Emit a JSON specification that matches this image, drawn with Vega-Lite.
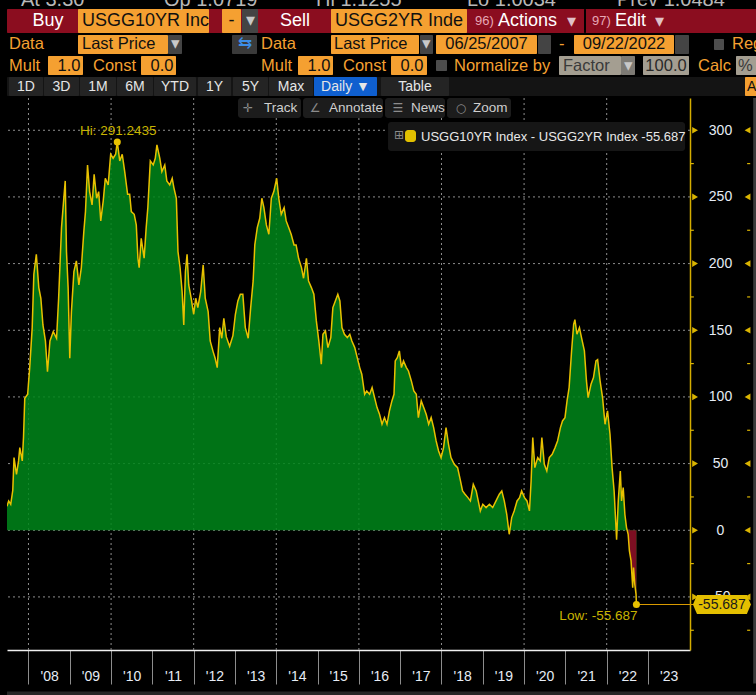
{
  "$schema": "https://vega.github.io/schema/vega-lite/v6.json",
  "description": "Bloomberg-style chart of the US 10Y minus 2Y Treasury yield spread (bp), Jun 2007 - Sep 2022",
  "background": "#000000",
  "padding": {"left": 6, "top": 0, "right": 0, "bottom": 0},
  "spacing": 0,
  "config": {
    "view": {"stroke": null},
    "concat": {"spacing": 0},
    "text": {"font": "Liberation Sans"}
  },
  "resolve": {"scale": {"color": "independent", "size": "independent"}},
  "datasets": {
    "spread": [
      {"year": 2007.48, "spread": 18}, {"year": 2007.52, "spread": 22}, {"year": 2007.57, "spread": 19.5},
      {"year": 2007.62, "spread": 30}, {"year": 2007.65, "spread": 54.5}, {"year": 2007.71, "spread": 42},
      {"year": 2007.76, "spread": 52}, {"year": 2007.79, "spread": 62}, {"year": 2007.85, "spread": 52},
      {"year": 2007.88, "spread": 70}, {"year": 2007.91, "spread": 99}, {"year": 2007.98, "spread": 102},
      {"year": 2008.03, "spread": 122}, {"year": 2008.09, "spread": 152}, {"year": 2008.13, "spread": 192},
      {"year": 2008.19, "spread": 207}, {"year": 2008.25, "spread": 182}, {"year": 2008.30, "spread": 174},
      {"year": 2008.35, "spread": 154}, {"year": 2008.41, "spread": 142}, {"year": 2008.46, "spread": 119},
      {"year": 2008.52, "spread": 142}, {"year": 2008.60, "spread": 149}, {"year": 2008.68, "spread": 144},
      {"year": 2008.73, "spread": 174}, {"year": 2008.80, "spread": 227}, {"year": 2008.85, "spread": 247},
      {"year": 2008.89, "spread": 262}, {"year": 2008.92, "spread": 209}, {"year": 2008.96, "spread": 182},
      {"year": 2009.00, "spread": 129}, {"year": 2009.04, "spread": 164}, {"year": 2009.10, "spread": 194},
      {"year": 2009.16, "spread": 202}, {"year": 2009.22, "spread": 184}, {"year": 2009.28, "spread": 197},
      {"year": 2009.34, "spread": 224}, {"year": 2009.38, "spread": 239}, {"year": 2009.43, "spread": 274},
      {"year": 2009.48, "spread": 254}, {"year": 2009.54, "spread": 244}, {"year": 2009.59, "spread": 267},
      {"year": 2009.65, "spread": 249}, {"year": 2009.70, "spread": 254}, {"year": 2009.75, "spread": 232},
      {"year": 2009.81, "spread": 247}, {"year": 2009.86, "spread": 264}, {"year": 2009.93, "spread": 259},
      {"year": 2009.99, "spread": 282}, {"year": 2010.05, "spread": 279}, {"year": 2010.11, "spread": 282},
      {"year": 2010.15, "spread": 291.2435}, {"year": 2010.21, "spread": 277}, {"year": 2010.27, "spread": 282},
      {"year": 2010.33, "spread": 269}, {"year": 2010.40, "spread": 252}, {"year": 2010.45, "spread": 252},
      {"year": 2010.49, "spread": 239}, {"year": 2010.56, "spread": 237}, {"year": 2010.61, "spread": 229},
      {"year": 2010.65, "spread": 204}, {"year": 2010.68, "spread": 197}, {"year": 2010.73, "spread": 219},
      {"year": 2010.80, "spread": 204}, {"year": 2010.85, "spread": 227}, {"year": 2010.89, "spread": 242},
      {"year": 2010.95, "spread": 277}, {"year": 2011.02, "spread": 274}, {"year": 2011.07, "spread": 279},
      {"year": 2011.11, "spread": 289}, {"year": 2011.18, "spread": 279}, {"year": 2011.23, "spread": 269},
      {"year": 2011.30, "spread": 274}, {"year": 2011.35, "spread": 262}, {"year": 2011.42, "spread": 259},
      {"year": 2011.48, "spread": 264}, {"year": 2011.52, "spread": 257}, {"year": 2011.58, "spread": 249},
      {"year": 2011.62, "spread": 209}, {"year": 2011.67, "spread": 197}, {"year": 2011.72, "spread": 179},
      {"year": 2011.76, "spread": 154}, {"year": 2011.80, "spread": 194}, {"year": 2011.84, "spread": 207},
      {"year": 2011.88, "spread": 184}, {"year": 2011.94, "spread": 174}, {"year": 2012.00, "spread": 162},
      {"year": 2012.05, "spread": 174}, {"year": 2012.10, "spread": 167}, {"year": 2012.17, "spread": 179},
      {"year": 2012.23, "spread": 199}, {"year": 2012.28, "spread": 174}, {"year": 2012.35, "spread": 164},
      {"year": 2012.40, "spread": 142}, {"year": 2012.47, "spread": 134}, {"year": 2012.52, "spread": 129},
      {"year": 2012.57, "spread": 122}, {"year": 2012.63, "spread": 152}, {"year": 2012.68, "spread": 144},
      {"year": 2012.73, "spread": 159}, {"year": 2012.79, "spread": 145}, {"year": 2012.87, "spread": 138},
      {"year": 2012.95, "spread": 146}, {"year": 2013.01, "spread": 162}, {"year": 2013.07, "spread": 172},
      {"year": 2013.13, "spread": 177}, {"year": 2013.19, "spread": 177}, {"year": 2013.25, "spread": 152},
      {"year": 2013.32, "spread": 144}, {"year": 2013.38, "spread": 167}, {"year": 2013.44, "spread": 187},
      {"year": 2013.48, "spread": 214}, {"year": 2013.54, "spread": 227}, {"year": 2013.60, "spread": 234},
      {"year": 2013.65, "spread": 249}, {"year": 2013.70, "spread": 242}, {"year": 2013.76, "spread": 229},
      {"year": 2013.82, "spread": 222}, {"year": 2013.88, "spread": 249}, {"year": 2013.94, "spread": 254},
      {"year": 2014.01, "spread": 264}, {"year": 2014.06, "spread": 249}, {"year": 2014.12, "spread": 237},
      {"year": 2014.19, "spread": 242}, {"year": 2014.24, "spread": 232}, {"year": 2014.30, "spread": 227},
      {"year": 2014.36, "spread": 222}, {"year": 2014.43, "spread": 214}, {"year": 2014.48, "spread": 214},
      {"year": 2014.54, "spread": 204}, {"year": 2014.61, "spread": 197}, {"year": 2014.66, "spread": 189},
      {"year": 2014.73, "spread": 204}, {"year": 2014.78, "spread": 187}, {"year": 2014.85, "spread": 182},
      {"year": 2014.91, "spread": 177}, {"year": 2014.97, "spread": 157}, {"year": 2015.03, "spread": 142},
      {"year": 2015.09, "spread": 124.5}, {"year": 2015.13, "spread": 147}, {"year": 2015.19, "spread": 149.5},
      {"year": 2015.25, "spread": 137}, {"year": 2015.32, "spread": 144.5}, {"year": 2015.37, "spread": 167},
      {"year": 2015.43, "spread": 172}, {"year": 2015.49, "spread": 177}, {"year": 2015.54, "spread": 172},
      {"year": 2015.59, "spread": 152}, {"year": 2015.65, "spread": 147}, {"year": 2015.72, "spread": 144.5},
      {"year": 2015.78, "spread": 147}, {"year": 2015.83, "spread": 142}, {"year": 2015.90, "spread": 137},
      {"year": 2015.96, "spread": 129.5}, {"year": 2016.02, "spread": 122}, {"year": 2016.07, "spread": 117},
      {"year": 2016.14, "spread": 102}, {"year": 2016.19, "spread": 104.5}, {"year": 2016.26, "spread": 102},
      {"year": 2016.32, "spread": 107}, {"year": 2016.38, "spread": 99.5}, {"year": 2016.44, "spread": 92},
      {"year": 2016.50, "spread": 87}, {"year": 2016.56, "spread": 79.5}, {"year": 2016.62, "spread": 84.5},
      {"year": 2016.68, "spread": 79.5}, {"year": 2016.74, "spread": 89.5}, {"year": 2016.80, "spread": 97},
      {"year": 2016.85, "spread": 102}, {"year": 2016.88, "spread": 127}, {"year": 2016.93, "spread": 129.5},
      {"year": 2016.98, "spread": 134.5}, {"year": 2017.03, "spread": 122}, {"year": 2017.08, "spread": 127},
      {"year": 2017.15, "spread": 122}, {"year": 2017.20, "spread": 119.5}, {"year": 2017.27, "spread": 112},
      {"year": 2017.33, "spread": 104.5}, {"year": 2017.39, "spread": 102}, {"year": 2017.44, "spread": 84.5},
      {"year": 2017.51, "spread": 97}, {"year": 2017.57, "spread": 92}, {"year": 2017.63, "spread": 87},
      {"year": 2017.69, "spread": 79.5}, {"year": 2017.75, "spread": 84.5}, {"year": 2017.81, "spread": 77},
      {"year": 2017.87, "spread": 67}, {"year": 2017.93, "spread": 59.5}, {"year": 2017.99, "spread": 54.5},
      {"year": 2018.05, "spread": 62}, {"year": 2018.11, "spread": 77}, {"year": 2018.17, "spread": 64.5},
      {"year": 2018.23, "spread": 54.5}, {"year": 2018.31, "spread": 49.5}, {"year": 2018.39, "spread": 47},
      {"year": 2018.46, "spread": 37}, {"year": 2018.51, "spread": 29.5}, {"year": 2018.57, "spread": 27},
      {"year": 2018.64, "spread": 24.5}, {"year": 2018.70, "spread": 22}, {"year": 2018.77, "spread": 34.5},
      {"year": 2018.84, "spread": 29.5}, {"year": 2018.89, "spread": 22}, {"year": 2018.94, "spread": 14.5},
      {"year": 2019.00, "spread": 19.5}, {"year": 2019.08, "spread": 17}, {"year": 2019.16, "spread": 19.5},
      {"year": 2019.24, "spread": 17}, {"year": 2019.32, "spread": 22}, {"year": 2019.40, "spread": 27},
      {"year": 2019.46, "spread": 29.5}, {"year": 2019.52, "spread": 22}, {"year": 2019.58, "spread": 12},
      {"year": 2019.64, "spread": -3}, {"year": 2019.70, "spread": 9.5}, {"year": 2019.76, "spread": 14.5},
      {"year": 2019.83, "spread": 22}, {"year": 2019.89, "spread": 24.5}, {"year": 2019.94, "spread": 29.5},
      {"year": 2020.01, "spread": 24.5}, {"year": 2020.07, "spread": 22}, {"year": 2020.13, "spread": 14.5},
      {"year": 2020.17, "spread": 37}, {"year": 2020.21, "spread": 69.5}, {"year": 2020.26, "spread": 47},
      {"year": 2020.33, "spread": 54.5}, {"year": 2020.39, "spread": 52}, {"year": 2020.43, "spread": 69.5},
      {"year": 2020.49, "spread": 49.5}, {"year": 2020.55, "spread": 44.5}, {"year": 2020.61, "spread": 54.5},
      {"year": 2020.68, "spread": 57}, {"year": 2020.75, "spread": 62}, {"year": 2020.81, "spread": 67},
      {"year": 2020.88, "spread": 77}, {"year": 2020.93, "spread": 82}, {"year": 2020.99, "spread": 84.5},
      {"year": 2021.04, "spread": 97}, {"year": 2021.09, "spread": 107}, {"year": 2021.15, "spread": 134.5},
      {"year": 2021.20, "spread": 154.5}, {"year": 2021.23, "spread": 158}, {"year": 2021.28, "spread": 147},
      {"year": 2021.34, "spread": 152}, {"year": 2021.39, "spread": 144.5}, {"year": 2021.46, "spread": 134.5},
      {"year": 2021.51, "spread": 112}, {"year": 2021.55, "spread": 99.5}, {"year": 2021.62, "spread": 109.5},
      {"year": 2021.68, "spread": 114.5}, {"year": 2021.74, "spread": 127}, {"year": 2021.78, "spread": 128},
      {"year": 2021.84, "spread": 112}, {"year": 2021.90, "spread": 99.5}, {"year": 2021.96, "spread": 79.5},
      {"year": 2022.02, "spread": 89.5}, {"year": 2022.08, "spread": 72}, {"year": 2022.13, "spread": 47},
      {"year": 2022.18, "spread": 29.5}, {"year": 2022.24, "spread": -7}, {"year": 2022.28, "spread": 22},
      {"year": 2022.33, "spread": 44.5}, {"year": 2022.36, "spread": 22}, {"year": 2022.40, "spread": 32},
      {"year": 2022.44, "spread": 12}, {"year": 2022.48, "spread": 2}, {"year": 2022.52, "spread": -3},
      {"year": 2022.55, "spread": -15.5}, {"year": 2022.59, "spread": -23}, {"year": 2022.61, "spread": -33},
      {"year": 2022.63, "spread": -43}, {"year": 2022.65, "spread": -28}, {"year": 2022.68, "spread": -40.5},
      {"year": 2022.71, "spread": -48}, {"year": 2022.72, "spread": -55.687}
    ],
    "evenYears": [
      {"year": 2008}, {"year": 2010}, {"year": 2012}, {"year": 2014},
      {"year": 2016}, {"year": 2018}, {"year": 2020}, {"year": 2022}
    ],
    "majors": [
      {"level": -50}, {"level": 0}, {"level": 50}, {"level": 100},
      {"level": 150}, {"level": 200}, {"level": 250}, {"level": 300}
    ],
    "minors": [
      {"level": -75}, {"level": -25}, {"level": 25}, {"level": 75},
      {"level": 125}, {"level": 175}, {"level": 225}, {"level": 275}
    ],
    "extremes": [
      {"year": 2010.15, "spread": 291.2435, "tag": "Hi", "label": "Hi: 291.2435", "value": "291.2435"},
      {"year": 2022.72, "spread": -55.687, "tag": "Low", "label": "Low: -55.687", "value": "-55.687"}
    ],
    "hdrBoxes": [
      {"x0": 6, "x1": 756, "y0": 9, "y1": 33, "kind": "red"},
      {"x0": 77, "x1": 208, "y0": 9, "y1": 33, "kind": "orange"},
      {"x0": 221, "x1": 240, "y0": 9, "y1": 33, "kind": "orange"},
      {"x0": 241, "x1": 257, "y0": 9, "y1": 33, "kind": "drop"},
      {"x0": 330, "x1": 466, "y0": 9, "y1": 33, "kind": "orange"},
      {"x0": 583, "x1": 585, "y0": 9, "y1": 33, "kind": "sep"},
      {"x0": 77, "x1": 167, "y0": 35, "y1": 54, "kind": "orange"},
      {"x0": 167, "x1": 181, "y0": 35, "y1": 54, "kind": "drop"},
      {"x0": 231, "x1": 256, "y0": 35, "y1": 54, "kind": "icon"},
      {"x0": 330, "x1": 418, "y0": 35, "y1": 54, "kind": "orange"},
      {"x0": 419, "x1": 432, "y0": 35, "y1": 54, "kind": "drop"},
      {"x0": 435, "x1": 536, "y0": 35, "y1": 54, "kind": "orange"},
      {"x0": 537, "x1": 550, "y0": 35, "y1": 54, "kind": "drop"},
      {"x0": 573, "x1": 673, "y0": 35, "y1": 54, "kind": "orange"},
      {"x0": 674, "x1": 688, "y0": 35, "y1": 54, "kind": "drop"},
      {"x0": 713, "x1": 723, "y0": 39, "y1": 50, "kind": "check"},
      {"x0": 47, "x1": 82, "y0": 56, "y1": 75, "kind": "orange"},
      {"x0": 140, "x1": 175, "y0": 56, "y1": 75, "kind": "orange"},
      {"x0": 297, "x1": 332, "y0": 56, "y1": 75, "kind": "orange"},
      {"x0": 390, "x1": 426, "y0": 56, "y1": 75, "kind": "orange"},
      {"x0": 435, "x1": 446, "y0": 60, "y1": 71, "kind": "check"},
      {"x0": 558, "x1": 620, "y0": 56, "y1": 75, "kind": "tan"},
      {"x0": 620, "x1": 634, "y0": 56, "y1": 75, "kind": "tandrop"},
      {"x0": 642, "x1": 688, "y0": 56, "y1": 75, "kind": "tan"},
      {"x0": 735, "x1": 756, "y0": 56, "y1": 75, "kind": "tan"},
      {"x0": 6, "x1": 756, "y0": 77, "y1": 96, "kind": "dark"},
      {"x0": 8, "x1": 42, "y0": 77, "y1": 96, "kind": "btn"},
      {"x0": 43, "x1": 78, "y0": 77, "y1": 96, "kind": "btn"},
      {"x0": 79, "x1": 115, "y0": 77, "y1": 96, "kind": "btn"},
      {"x0": 116, "x1": 152, "y0": 77, "y1": 96, "kind": "btn"},
      {"x0": 153, "x1": 195, "y0": 77, "y1": 96, "kind": "btn"},
      {"x0": 197, "x1": 230, "y0": 77, "y1": 96, "kind": "btn"},
      {"x0": 232, "x1": 267, "y0": 77, "y1": 96, "kind": "btn"},
      {"x0": 268, "x1": 312, "y0": 77, "y1": 96, "kind": "btn"},
      {"x0": 313, "x1": 376, "y0": 77, "y1": 96, "kind": "blue"},
      {"x0": 380, "x1": 448, "y0": 77, "y1": 96, "kind": "btn"},
      {"x0": 744, "x1": 756, "y0": 77, "y1": 96, "kind": "orange"}
    ],
    "hdrText": [
      {"x": 20, "y": 0, "label": "At 3.30", "kind": "top", "row": 0},
      {"x": 163, "y": 0, "label": "Op 1.0719", "kind": "top", "row": 0},
      {"x": 315, "y": 0, "label": "Hi 1.1255", "kind": "top", "row": 0},
      {"x": 466, "y": 0, "label": "Lo 1.0034", "kind": "top", "row": 0},
      {"x": 616, "y": 0, "label": "Prev 1.0484", "kind": "top", "row": 0},
      {"x": 47, "y": 21, "label": "Buy", "kind": "white", "row": 1},
      {"x": 81, "y": 21, "label": "USGG10YR Inc", "kind": "boxtext", "row": 1},
      {"x": 230.5, "y": 21, "label": "-", "kind": "boxnum", "row": 1},
      {"x": 249, "y": 21, "label": "▾", "kind": "dropg", "row": 1},
      {"x": 294, "y": 21, "label": "Sell", "kind": "white", "row": 1},
      {"x": 334, "y": 21, "label": "USGG2YR Inde", "kind": "boxtext", "row": 1},
      {"x": 474, "y": 21, "label": "96)", "kind": "num", "row": 1},
      {"x": 497, "y": 21, "label": "Actions", "kind": "whiteL", "row": 1},
      {"x": 570, "y": 22, "label": "▾", "kind": "dropw", "row": 1},
      {"x": 591, "y": 21, "label": "97)", "kind": "num", "row": 1},
      {"x": 614, "y": 21, "label": "Edit", "kind": "whiteL", "row": 1},
      {"x": 658, "y": 22, "label": "▾", "kind": "dropw", "row": 1},
      {"x": 8, "y": 44, "label": "Data", "kind": "label", "row": 2},
      {"x": 81, "y": 44, "label": "Last Price", "kind": "boxtext", "row": 2},
      {"x": 174, "y": 44, "label": "▾", "kind": "dropg", "row": 2},
      {"x": 243.5, "y": 44, "label": "⇆", "kind": "swap", "row": 2},
      {"x": 260, "y": 44, "label": "Data", "kind": "label", "row": 2},
      {"x": 333, "y": 44, "label": "Last Price", "kind": "boxtext", "row": 2},
      {"x": 425.5, "y": 44, "label": "▾", "kind": "dropg", "row": 2},
      {"x": 485.5, "y": 44, "label": "06/25/2007", "kind": "boxnum", "row": 2},
      {"x": 558, "y": 44, "label": "-", "kind": "label", "row": 2},
      {"x": 623, "y": 44, "label": "09/22/2022", "kind": "boxnum", "row": 2},
      {"x": 731, "y": 44, "label": "Reg", "kind": "label", "row": 2},
      {"x": 8, "y": 66, "label": "Mult", "kind": "label", "row": 3},
      {"x": 68, "y": 66, "label": "1.0", "kind": "boxnum", "row": 3},
      {"x": 92, "y": 66, "label": "Const", "kind": "label", "row": 3},
      {"x": 161, "y": 66, "label": "0.0", "kind": "boxnum", "row": 3},
      {"x": 260, "y": 66, "label": "Mult", "kind": "label", "row": 3},
      {"x": 318, "y": 66, "label": "1.0", "kind": "boxnum", "row": 3},
      {"x": 342, "y": 66, "label": "Const", "kind": "label", "row": 3},
      {"x": 411, "y": 66, "label": "0.0", "kind": "boxnum", "row": 3},
      {"x": 453, "y": 66, "label": "Normalize by", "kind": "label", "row": 3},
      {"x": 562, "y": 66, "label": "Factor", "kind": "tantext", "row": 3},
      {"x": 627, "y": 66, "label": "▾", "kind": "dropg", "row": 3},
      {"x": 665, "y": 66, "label": "100.0", "kind": "tannum", "row": 3},
      {"x": 697, "y": 66, "label": "Calc", "kind": "label", "row": 3},
      {"x": 737, "y": 66, "label": "%", "kind": "tantext", "row": 3},
      {"x": 25, "y": 86.5, "label": "1D", "kind": "btntext", "row": 4},
      {"x": 60.5, "y": 86.5, "label": "3D", "kind": "btntext", "row": 4},
      {"x": 97, "y": 86.5, "label": "1M", "kind": "btntext", "row": 4},
      {"x": 134, "y": 86.5, "label": "6M", "kind": "btntext", "row": 4},
      {"x": 174, "y": 86.5, "label": "YTD", "kind": "btntext", "row": 4},
      {"x": 213.5, "y": 86.5, "label": "1Y", "kind": "btntext", "row": 4},
      {"x": 249.5, "y": 86.5, "label": "5Y", "kind": "btntext", "row": 4},
      {"x": 290, "y": 86.5, "label": "Max", "kind": "btntext", "row": 4},
      {"x": 344.5, "y": 86.5, "label": "Daily ▼", "kind": "btntext", "row": 4},
      {"x": 414, "y": 86.5, "label": "Table", "kind": "btntext", "row": 4},
      {"x": 746, "y": 86.5, "label": "A", "kind": "boxtext", "row": 4}
    ],
    "uiBoxes": [
      {"x0": 2013.073, "x1": 2014.599, "y0": 324.2, "y1": 309.2, "part": "btn"},
      {"x0": 2014.647, "x1": 2016.584, "y0": 324.2, "y1": 309.2, "part": "btn"},
      {"x0": 2016.633, "x1": 2018.085, "y0": 324.2, "y1": 309.2, "part": "btn"},
      {"x0": 2018.134, "x1": 2019.683, "y0": 324.2, "y1": 309.2, "part": "btn"},
      {"x0": 2016.705, "x1": 2023.897, "y0": 306.2, "y1": 284.5, "part": "legend"},
      {"x0": 2017.117, "x1": 2017.383, "y0": 300.2, "y1": 291.2, "part": "swatch"}
    ],
    "uiText": [
      {"x": 2013.315, "y": 316.7, "label": "✛", "part": "icon"},
      {"x": 2014.938, "y": 316.7, "label": "∠", "part": "icon"},
      {"x": 2016.947, "y": 316.7, "label": "☰", "part": "icon"},
      {"x": 2018.473, "y": 316.7, "label": "○", "part": "icon"},
      {"x": 2016.971, "y": 296.5, "label": "⊞", "part": "icon"},
      {"x": 2013.703, "y": 316.7, "label": "Track", "part": "uil"},
      {"x": 2015.277, "y": 316.7, "label": "Annotate", "part": "uil"},
      {"x": 2017.262, "y": 316.7, "label": "News", "part": "uil"},
      {"x": 2018.763, "y": 316.7, "label": "Zoom", "part": "uil"},
      {"x": 2017.504, "y": 295.0, "label": "USGG10YR Index - USGG2YR Index -55.687", "part": "leg"}
    ]
  },
  "vconcat": [
    {
      "width": 750,
      "height": 97,
      "layer": [
        {
          "data": {"name": "hdrBoxes"},
          "mark": {"type": "rect", "clip": true, "cornerRadius": 1},
          "encoding": {
            "x": {"field": "x0", "type": "quantitative", "scale": {"domain": [6, 756], "nice": false, "zero": false}, "axis": null},
            "x2": {"field": "x1"},
            "y": {"field": "y0", "type": "quantitative", "scale": {"domain": [97, 0], "nice": false, "zero": false}, "axis": null},
            "y2": {"field": "y1"},
            "color": {
              "field": "kind", "type": "nominal", "legend": null,
              "scale": {
                "domain": ["red", "orange", "drop", "dark", "btn", "blue", "tan", "tandrop", "check", "icon", "sep", "top", "white", "whiteL", "boxtext", "boxnum", "dropg", "dropw", "num", "swap", "label", "tantext", "tannum", "btntext"],
                "range": ["#8b0d1f", "#f5a031", "#444444", "#141414", "#242424", "#0f5fcf", "#a49e91", "#7d7a74", "#4d4d4d", "#3a3a3a", "#000000", "#b8b8b8", "#ffffff", "#ffffff", "#101010", "#101010", "#c8c8c8", "#e0c0c8", "#e7a8b6", "#3c8ee8", "#f5a031", "#3a3a3a", "#2a2a2a", "#e6e6e6"]
              }
            }
          }
        },
        {
          "data": {"name": "hdrText"},
          "transform": [{"filter": "indexof(['top', 'whiteL', 'boxtext', 'label', 'tantext'], datum.kind) >= 0"}],
          "mark": {"type": "text", "align": "left", "baseline": "middle", "clip": true, "font": "Liberation Sans"},
          "encoding": {
            "x": {"field": "x", "type": "quantitative", "scale": {"domain": [6, 756], "nice": false, "zero": false}, "axis": null},
            "y": {"field": "y", "type": "quantitative", "scale": {"domain": [97, 0], "nice": false, "zero": false}, "axis": null},
            "text": {"field": "label"},
            "size": {"field": "row", "type": "quantitative", "legend": null, "scale": {"type": "threshold", "domain": [0.5, 1.5, 3.5], "range": [20, 18, 16.5, 14]}},
            "color": {
              "field": "kind", "type": "nominal", "legend": null,
              "scale": {
                "domain": ["red", "orange", "drop", "dark", "btn", "blue", "tan", "tandrop", "check", "icon", "sep", "top", "white", "whiteL", "boxtext", "boxnum", "dropg", "dropw", "num", "swap", "label", "tantext", "tannum", "btntext"],
                "range": ["#8b0d1f", "#f5a031", "#444444", "#141414", "#242424", "#0f5fcf", "#a49e91", "#7d7a74", "#4d4d4d", "#3a3a3a", "#000000", "#b8b8b8", "#ffffff", "#ffffff", "#101010", "#101010", "#c8c8c8", "#e0c0c8", "#e7a8b6", "#3c8ee8", "#f5a031", "#3a3a3a", "#2a2a2a", "#e6e6e6"]
              }
            }
          }
        },
        {
          "data": {"name": "hdrText"},
          "transform": [{"filter": "datum.kind == 'num'"}],
          "mark": {"type": "text", "align": "left", "baseline": "middle", "clip": true, "font": "Liberation Sans", "fontSize": 13, "color": "#e7a8b6"},
          "encoding": {
            "x": {"field": "x", "type": "quantitative", "scale": {"domain": [6, 756], "nice": false, "zero": false}, "axis": null},
            "y": {"field": "y", "type": "quantitative", "scale": {"domain": [97, 0], "nice": false, "zero": false}, "axis": null},
            "text": {"field": "label"}
          }
        },
        {
          "data": {"name": "hdrText"},
          "transform": [{"filter": "indexof(['top', 'whiteL', 'boxtext', 'num', 'label', 'tantext'], datum.kind) < 0"}],
          "mark": {"type": "text", "align": "center", "baseline": "middle", "clip": true, "font": "Liberation Sans"},
          "encoding": {
            "x": {"field": "x", "type": "quantitative", "scale": {"domain": [6, 756], "nice": false, "zero": false}, "axis": null},
            "y": {"field": "y", "type": "quantitative", "scale": {"domain": [97, 0], "nice": false, "zero": false}, "axis": null},
            "text": {"field": "label"},
            "size": {"field": "row", "type": "quantitative", "legend": null, "scale": {"type": "threshold", "domain": [0.5, 1.5, 3.5], "range": [20, 18, 16.5, 14]}},
            "color": {
              "field": "kind", "type": "nominal", "legend": null,
              "scale": {
                "domain": ["red", "orange", "drop", "dark", "btn", "blue", "tan", "tandrop", "check", "icon", "sep", "top", "white", "whiteL", "boxtext", "boxnum", "dropg", "dropw", "num", "swap", "label", "tantext", "tannum", "btntext"],
                "range": ["#8b0d1f", "#f5a031", "#444444", "#141414", "#242424", "#0f5fcf", "#a49e91", "#7d7a74", "#4d4d4d", "#3a3a3a", "#000000", "#b8b8b8", "#ffffff", "#ffffff", "#101010", "#101010", "#c8c8c8", "#e0c0c8", "#e7a8b6", "#3c8ee8", "#f5a031", "#3a3a3a", "#2a2a2a", "#e6e6e6"]
              }
            }
          }
        }
      ]
    },
    {
      "width": 683,
      "height": 552,
      "layer": [
        {
          "data": {"name": "evenYears"},
          "mark": {"type": "rule", "color": "#8e8e8e", "strokeDash": [2, 3], "strokeWidth": 1},
          "encoding": {
            "x": {"field": "year", "type": "quantitative", "scale": {"domain": [2007.48, 2024.017], "nice": false, "zero": false}}
          }
        },
        {
          "data": {"name": "majors"},
          "mark": {"type": "rule", "color": "#8e8e8e", "strokeDash": [2, 3], "strokeWidth": 1},
          "encoding": {
            "y": {"field": "level", "type": "quantitative", "scale": {"domain": [-89.8, 324.2], "nice": false, "zero": false}}
          }
        },
        {
          "data": {"name": "spread"},
          "mark": {"type": "area", "color": "#00861a", "opacity": 0.86, "clip": true},
          "encoding": {
            "x": {"field": "year", "type": "quantitative", "scale": {"domain": [2007.48, 2024.017], "nice": false, "zero": false}},
            "y": {"field": "spread", "type": "quantitative", "scale": {"domain": [-89.8, 324.2], "nice": false, "zero": false}},
            "y2": {"datum": 0}
          }
        },
        {
          "data": {"name": "spread"},
          "transform": [{"filter": "datum.spread < 0 && datum.year > 2022.5"}],
          "mark": {"type": "area", "color": "#7d0f22", "clip": true},
          "encoding": {
            "x": {"field": "year", "type": "quantitative", "scale": {"domain": [2007.48, 2024.017], "nice": false, "zero": false}},
            "y": {"field": "spread", "type": "quantitative", "scale": {"domain": [-89.8, 324.2], "nice": false, "zero": false}},
            "y2": {"datum": 0}
          }
        },
        {
          "data": {"name": "spread"},
          "mark": {"type": "line", "color": "#e8c100", "strokeWidth": 1.5, "clip": true},
          "encoding": {
            "x": {
              "field": "year", "type": "quantitative",
              "scale": {"domain": [2007.48, 2024.017], "nice": false, "zero": false},
              "axis": {
                "values": [2008, 2009, 2010, 2011, 2012, 2013, 2014, 2015, 2016, 2017, 2018, 2019, 2020, 2021, 2022, 2023],
                "labelExpr": "\"'\" + substring(toString(datum.value), 2, 4)",
                "labelOffset": 20.65,
                "tickSize": 34,
                "tickColor": "#8c8c8c",
                "tickWidth": 1,
                "domainColor": "#f0f0f0",
                "domainWidth": 1.5,
                "grid": false,
                "labelColor": "#e6ecf5",
                "labelFont": "Liberation Sans",
                "labelFontSize": 14,
                "labelPadding": -8,
                "labelBaseline": "middle",
                "labelAlign": "center",
                "labelFlush": false,
                "labelOverlap": false,
                "labelBound": false,
                "title": null,
                "minExtent": 46,
                "maxExtent": 46
              }
            },
            "y": {
              "field": "spread", "type": "quantitative",
              "scale": {"domain": [-89.8, 324.2], "nice": false, "zero": false},
              "axis": {
                "orient": "right",
                "values": [-50, 0, 50, 100, 150, 200, 250, 300],
                "labelExpr": "toString(datum.value)",
                "ticks": false,
                "grid": false,
                "domainColor": "#d4ad00",
                "domainWidth": 1.5,
                "labelAlign": "center",
                "labelBaseline": "middle",
                "labelPadding": 30,
                "labelColor": "#e6ecf5",
                "labelFont": "Liberation Sans",
                "labelFontSize": 14,
                "labelFlush": false,
                "labelOverlap": false,
                "labelBound": false,
                "title": null,
                "minExtent": 67,
                "maxExtent": 67
              }
            }
          }
        },
        {
          "data": {"name": "extremes"},
          "transform": [{"filter": "datum.tag == 'Low'"}],
          "mark": {"type": "rule", "color": "#d99a00", "strokeWidth": 1.2},
          "encoding": {
            "x": {"field": "year", "type": "quantitative", "scale": {"domain": [2007.48, 2024.017], "nice": false, "zero": false}},
            "x2": {"datum": 2024.09},
            "y": {"field": "spread", "type": "quantitative", "scale": {"domain": [-89.8, 324.2], "nice": false, "zero": false}}
          }
        },
        {
          "data": {"name": "extremes"},
          "mark": {"type": "point", "filled": true, "opacity": 1, "color": "#e8c100", "size": 50},
          "encoding": {
            "x": {"field": "year", "type": "quantitative", "scale": {"domain": [2007.48, 2024.017], "nice": false, "zero": false}},
            "y": {"field": "spread", "type": "quantitative", "scale": {"domain": [-89.8, 324.2], "nice": false, "zero": false}}
          }
        },
        {
          "data": {"name": "extremes"},
          "transform": [{"filter": "datum.tag == 'Hi'"}],
          "mark": {"type": "text", "align": "center", "baseline": "middle", "dx": 1, "dy": -11, "fontSize": 13.5, "color": "#c8b400", "font": "Liberation Sans"},
          "encoding": {
            "x": {"field": "year", "type": "quantitative", "scale": {"domain": [2007.48, 2024.017], "nice": false, "zero": false}},
            "y": {"field": "spread", "type": "quantitative", "scale": {"domain": [-89.8, 324.2], "nice": false, "zero": false}},
            "text": {"field": "label"}
          }
        },
        {
          "data": {"name": "extremes"},
          "transform": [{"filter": "datum.tag == 'Low'"}],
          "mark": {"type": "text", "align": "right", "baseline": "middle", "dx": 1, "dy": 11, "fontSize": 13.5, "color": "#c8b400", "font": "Liberation Sans"},
          "encoding": {
            "x": {"field": "year", "type": "quantitative", "scale": {"domain": [2007.48, 2024.017], "nice": false, "zero": false}},
            "y": {"field": "spread", "type": "quantitative", "scale": {"domain": [-89.8, 324.2], "nice": false, "zero": false}},
            "text": {"field": "label"}
          }
        },
        {
          "data": {"name": "majors"},
          "mark": {"type": "point", "shape": "triangle-right", "filled": true, "opacity": 1, "color": "#dab400", "size": 45},
          "encoding": {
            "x": {"datum": 2024.14, "type": "quantitative", "scale": {"domain": [2007.48, 2024.017], "nice": false, "zero": false}},
            "y": {"field": "level", "type": "quantitative", "scale": {"domain": [-89.8, 324.2], "nice": false, "zero": false}}
          }
        },
        {
          "data": {"name": "majors"},
          "mark": {"type": "point", "shape": "triangle-left", "filled": true, "opacity": 1, "color": "#dab400", "size": 45},
          "encoding": {
            "x": {"datum": 2025.41, "type": "quantitative", "scale": {"domain": [2007.48, 2024.017], "nice": false, "zero": false}},
            "y": {"field": "level", "type": "quantitative", "scale": {"domain": [-89.8, 324.2], "nice": false, "zero": false}}
          }
        },
        {
          "data": {"name": "minors"},
          "mark": {"type": "rule", "color": "#dab400", "strokeWidth": 1.2},
          "encoding": {
            "x": {"datum": 2024.017, "type": "quantitative", "scale": {"domain": [2007.48, 2024.017], "nice": false, "zero": false}},
            "x2": {"datum": 2024.11},
            "y": {"field": "level", "type": "quantitative", "scale": {"domain": [-89.8, 324.2], "nice": false, "zero": false}}
          }
        },
        {
          "data": {"name": "minors"},
          "mark": {"type": "rule", "color": "#dab400", "strokeWidth": 1.2},
          "encoding": {
            "x": {"datum": 2025.40, "type": "quantitative", "scale": {"domain": [2007.48, 2024.017], "nice": false, "zero": false}},
            "x2": {"datum": 2025.475},
            "y": {"field": "level", "type": "quantitative", "scale": {"domain": [-89.8, 324.2], "nice": false, "zero": false}}
          }
        },
        {
          "data": {"values": [{}]},
          "mark": {"type": "rect", "color": "#3b3b3b"},
          "encoding": {
            "x": {"datum": 2025.547, "type": "quantitative", "scale": {"domain": [2007.48, 2024.017], "nice": false, "zero": false}},
            "x2": {"datum": 2025.63},
            "y": {"datum": 324.2, "type": "quantitative", "scale": {"domain": [-89.8, 324.2], "nice": false, "zero": false}},
            "y2": {"datum": -115}
          }
        },
        {
          "data": {"values": [{}]},
          "mark": {"type": "rect", "color": "#262626"},
          "encoding": {
            "x": {"datum": 2007.48, "type": "quantitative", "scale": {"domain": [2007.48, 2024.017], "nice": false, "zero": false}},
            "x2": {"datum": 2025.63},
            "y": {"datum": -121, "type": "quantitative", "scale": {"domain": [-89.8, 324.2], "nice": false, "zero": false}},
            "y2": {"datum": -124.1}
          }
        },
        {
          "data": {"name": "extremes"},
          "transform": [{"filter": "datum.tag == 'Low'"}],
          "mark": {"type": "point", "shape": "M-1,0L-0.86,-0.33L0.86,-0.33L1,0L0.86,0.33L-0.86,0.33Z", "filled": true, "opacity": 1, "color": "#e4bf00", "size": 3364},
          "encoding": {
            "x": {"datum": 2024.79, "type": "quantitative", "scale": {"domain": [2007.48, 2024.017], "nice": false, "zero": false}},
            "y": {"field": "spread", "type": "quantitative", "scale": {"domain": [-89.8, 324.2], "nice": false, "zero": false}}
          }
        },
        {
          "data": {"name": "extremes"},
          "transform": [{"filter": "datum.tag == 'Low'"}],
          "mark": {"type": "text", "align": "center", "baseline": "middle", "fontSize": 14, "color": "#1a1a1a", "font": "Liberation Sans"},
          "encoding": {
            "x": {"datum": 2024.79, "type": "quantitative", "scale": {"domain": [2007.48, 2024.017], "nice": false, "zero": false}},
            "y": {"field": "spread", "type": "quantitative", "scale": {"domain": [-89.8, 324.2], "nice": false, "zero": false}},
            "text": {"field": "value"}
          }
        },
        {
          "data": {"name": "uiBoxes"},
          "mark": {"type": "rect", "cornerRadius": 3},
          "encoding": {
            "x": {"field": "x0", "type": "quantitative", "scale": {"domain": [2007.48, 2024.017], "nice": false, "zero": false}},
            "x2": {"field": "x1"},
            "y": {"field": "y0", "type": "quantitative", "scale": {"domain": [-89.8, 324.2], "nice": false, "zero": false}},
            "y2": {"field": "y1"},
            "color": {"field": "part", "type": "nominal", "legend": null, "scale": {"domain": ["btn", "legend", "swatch", "icon", "uil", "leg"], "range": ["#1c1c1c", "#161616", "#e2c000", "#8c8c8c", "#cfcfcf", "#e8e8e8"]}}
          }
        },
        {
          "data": {"name": "uiText"},
          "transform": [{"filter": "datum.part == 'icon'"}],
          "mark": {"type": "text", "align": "center", "baseline": "middle", "fontSize": 12, "font": "DejaVu Sans"},
          "encoding": {
            "x": {"field": "x", "type": "quantitative", "scale": {"domain": [2007.48, 2024.017], "nice": false, "zero": false}},
            "y": {"field": "y", "type": "quantitative", "scale": {"domain": [-89.8, 324.2], "nice": false, "zero": false}},
            "text": {"field": "label"},
            "color": {"field": "part", "type": "nominal", "legend": null, "scale": {"domain": ["btn", "legend", "swatch", "icon", "uil", "leg"], "range": ["#1c1c1c", "#161616", "#e2c000", "#8c8c8c", "#cfcfcf", "#e8e8e8"]}}
          }
        },
        {
          "data": {"name": "uiText"},
          "transform": [{"filter": "datum.part == 'uil'"}],
          "mark": {"type": "text", "align": "left", "baseline": "middle", "fontSize": 13.5, "font": "Liberation Sans"},
          "encoding": {
            "x": {"field": "x", "type": "quantitative", "scale": {"domain": [2007.48, 2024.017], "nice": false, "zero": false}},
            "y": {"field": "y", "type": "quantitative", "scale": {"domain": [-89.8, 324.2], "nice": false, "zero": false}},
            "text": {"field": "label"},
            "color": {"field": "part", "type": "nominal", "legend": null, "scale": {"domain": ["btn", "legend", "swatch", "icon", "uil", "leg"], "range": ["#1c1c1c", "#161616", "#e2c000", "#8c8c8c", "#cfcfcf", "#e8e8e8"]}}
          }
        },
        {
          "data": {"name": "uiText"},
          "transform": [{"filter": "datum.part == 'leg'"}],
          "mark": {"type": "text", "align": "left", "baseline": "middle", "fontSize": 13, "font": "Liberation Sans"},
          "encoding": {
            "x": {"field": "x", "type": "quantitative", "scale": {"domain": [2007.48, 2024.017], "nice": false, "zero": false}},
            "y": {"field": "y", "type": "quantitative", "scale": {"domain": [-89.8, 324.2], "nice": false, "zero": false}},
            "text": {"field": "label"},
            "color": {"field": "part", "type": "nominal", "legend": null, "scale": {"domain": ["btn", "legend", "swatch", "icon", "uil", "leg"], "range": ["#1c1c1c", "#161616", "#e2c000", "#8c8c8c", "#cfcfcf", "#e8e8e8"]}}
          }
        }
      ]
    }
  ]
}
